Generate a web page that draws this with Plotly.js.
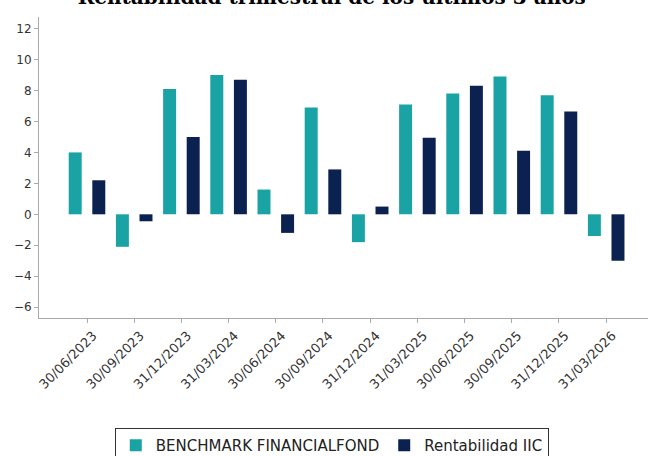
<!DOCTYPE html>
<html>
<head>
<meta charset="utf-8">
<script src="https://cdn.plot.ly/plotly-3.0.1.min.js"></script>
<style>html,body{margin:0;padding:0;background:#fff;}#chart{width:648px;height:456px;}</style>
</head>
<body>
<div id="chart"></div>
<script>
const categories = ["30/06/2023","30/09/2023","31/12/2023","31/03/2024","30/06/2024","30/09/2024","31/12/2024","31/03/2025","30/06/2025","30/09/2025","31/12/2025","31/03/2026"];
const benchmark = [4.0, -2.1, 8.1, 9.0, 1.6, 6.9, -1.8, 7.1, 7.8, 8.9, 7.7, -1.4];
const rentabilidad = [2.2, -0.45, 5.0, 8.7, -1.2, 2.9, 0.5, 4.95, 8.3, 4.1, 6.65, -3.0];
const seriesNames = ["BENCHMARK FINANCIALFOND", "Rentabilidad IIC"];
const yTicks = [-6, -4, -2, 0, 2, 4, 6, 8, 10, 12];
const chartTitle = "Rentabilidad trimestral de los últimos 3 años";

const traces = [
  {type: 'bar', x: categories, y: benchmark, name: seriesNames[0],
   marker: {color: '#1aa3a4', line: {width: 0}}, hoverinfo: 'x+y'},
  {type: 'bar', x: categories, y: rentabilidad, name: seriesNames[1],
   marker: {color: '#0b2150', line: {width: 0}}, hoverinfo: 'x+y'}
];

const layout = {
  width: 648, height: 456,
  paper_bgcolor: '#ffffff', plot_bgcolor: '#ffffff',
  margin: {l: 39, r: 0, t: 17, b: 138, pad: 0},
  barmode: 'group', bargap: 0, bargroupgap: 0.45,
  title: {text: '<b>' + chartTitle + '</b>', font: {family: 'DejaVu Serif', size: 20, color: '#000'},
          x: 0.512, xanchor: 'center', xref: 'container', yref: 'container', y: 1 - 4/456, yanchor: 'bottom'},
  showlegend: true,
  legend: {orientation: 'h', xref: 'container', yref: 'container', x: 0.512, xanchor: 'center', y: (456-428)/456, yanchor: 'top',
           bordercolor: '#333', borderwidth: 1, bgcolor: '#fff',
           font: {family: 'DejaVu Sans', size: 15, color: '#222'}},
  xaxis: {type: 'category', range: [-1.017, 11.886], showgrid: false, zeroline: false,
          showline: true, linecolor: '#aaaaaa', linewidth: 1,
          ticks: 'outside', ticklen: 4, tickcolor: '#aaaaaa', tickangle: -45, ticklabelshift: 6,
          tickfont: {family: 'DejaVu Sans', size: 13, color: '#333'}, fixedrange: true},
  yaxis: {range: [-6.7, 12.75], tickvals: yTicks, showgrid: false, zeroline: false,
          showline: true, linecolor: '#aaaaaa', linewidth: 1,
          ticks: 'outside', ticklen: 4, tickcolor: '#aaaaaa',
          tickfont: {family: 'DejaVu Sans', size: 12, color: '#333'}, fixedrange: true}
};

Plotly.newPlot('chart', traces, layout, {displayModeBar: false, staticPlot: true});
</script>
</body>
</html>
